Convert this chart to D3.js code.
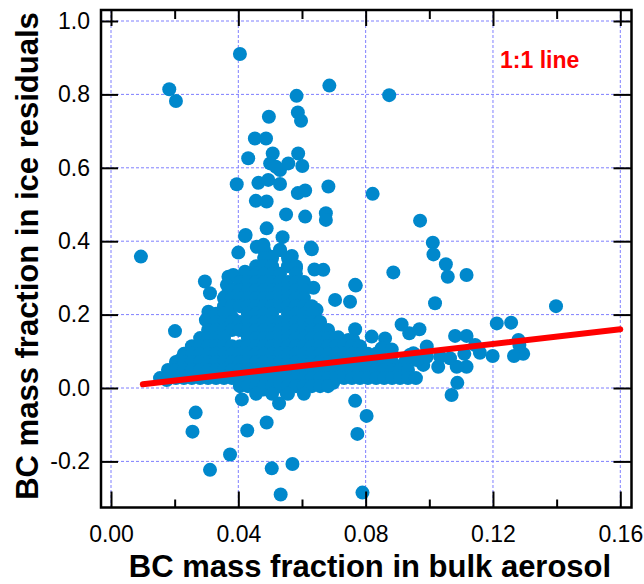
<!DOCTYPE html>
<html><head><meta charset="utf-8">
<script src="https://cdn.jsdelivr.net/npm/d3@7"></script>
<style>body{margin:0;background:#fff} svg{display:block} text{font-family:"Liberation Sans",Arial,sans-serif}</style>
</head><body><svg id="c" width="644" height="584"></svg>
<script>
// ---- data ----
const xTicksMajor = [0, 0.04, 0.08, 0.12, 0.16];
const xTicksMinor = [0.02, 0.06, 0.10, 0.14];
const yTicks = [-0.2, 0, 0.2, 0.4, 0.6, 0.8, 1.0];
const xTitle = "BC mass fraction in bulk aerosol";
const yTitle = "BC mass fraction in ice residuals";
const lineLabel = "1:1 line";
const oneToOne = [[0.01, 0.01], [0.16, 0.16]];

// scattered points [bulk, ice]
const isolatedPoints = [
 [0.0405,0.910],[0.0183,0.814],[0.0204,0.782],[0.0583,0.796],[0.0686,0.824],[0.0874,0.798],
 [0.0496,0.739],[0.0587,0.751],[0.0597,0.728],[0.0452,0.680],[0.0487,0.680],
 [0.0431,0.626],[0.0508,0.639],[0.0588,0.639],[0.0500,0.612],[0.0531,0.594],[0.0557,0.612],[0.0601,0.605],[0.0518,0.603],
 [0.0395,0.555],[0.0463,0.559],[0.0494,0.567],[0.0531,0.556],[0.0587,0.531],[0.0610,0.538],[0.0683,0.549],[0.0822,0.529],
 [0.0455,0.510],[0.0489,0.508],[0.0550,0.473],[0.0610,0.467],[0.0675,0.476],[0.0675,0.458],
 [0.0489,0.435],[0.0423,0.417],[0.0539,0.411],[0.0628,0.383],
 [0.0971,0.456],[0.1011,0.396],[0.1013,0.364],[0.1052,0.337],[0.1058,0.303],[0.1117,0.308],[0.0887,0.315],
 [0.0767,0.281],[0.0751,0.235],[0.1018,0.231],[0.1398,0.223],
 [0.0767,0.160],[0.0913,0.173],[0.0937,0.149],[0.0969,0.160],[0.1212,0.176],[0.1257,0.178],
 [0.0819,0.140],[0.0861,0.135],[0.0850,0.108],[0.0882,0.105],[0.0782,0.111],[0.0992,0.113],
 [0.1081,0.142],[0.1117,0.142],[0.1144,0.117],[0.1159,0.096],[0.1280,0.131],[0.1283,0.117],[0.1295,0.093],[0.1266,0.087],[0.1199,0.087],[0.1110,0.093],
 [0.1117,0.058],[0.1086,0.058],[0.1065,0.081],[0.1028,0.058],[0.1034,0.085],[0.0981,0.063],[0.0950,0.095],[0.0918,0.063],[0.0898,0.054],[0.0850,0.054],[0.0814,0.044],[0.0761,0.049],[0.0756,0.031],
 [0.1088,0.014],[0.1070,-0.019],[0.0767,-0.035],[0.0803,-0.076],[0.0774,-0.125],[0.0790,-0.285],
 [0.0770,0.113],[0.0761,0.131],[0.0992,0.085],[0.0960,0.076],[0.0939,0.090],[0.0924,0.072],
 [0.0094,0.358],[0.0201,0.155],[0.0266,-0.067],[0.0256,-0.119],[0.0374,-0.181],[0.0311,-0.223],
 [0.0411,-0.031],[0.0428,-0.116],[0.0489,-0.094],[0.0505,-0.219],[0.0570,-0.207],[0.0533,-0.290],
 [0.0479,-0.004],[0.0528,-0.042],[0.0521,0.004],[0.0552,-0.014],[0.0698,0.014],[0.0751,0.033],
 [0.0631,0.378],[0.0400,0.369],[0.0421,0.414],[0.0458,0.385],[0.0479,0.390],
 [0.0531,0.376],[0.0568,0.360],[0.0500,0.358],[0.0581,0.326],[0.0639,0.323],[0.0667,0.322],
 [0.0769,0.279],[0.0636,0.273],[0.0573,0.276],[0.0704,0.240],[0.0594,0.246],[0.0646,0.213],[0.0646,0.185],
 [0.0714,0.138],[0.0746,0.131],
 [0.0295,0.290],[0.0311,0.258],[0.0358,0.249],[0.0369,0.303],[0.0384,0.308],[0.0364,0.281],[0.0421,0.317],[0.0442,0.299],[0.0395,0.271],
 [0.0306,0.208],[0.0298,0.185],[0.0316,0.142],[0.0337,0.176],[0.0379,0.194],[0.0416,0.240],[0.0426,0.213],
 [0.0175,0.022],[0.0196,0.049],[0.0217,0.076],[0.0248,0.085],[0.0269,0.094],[0.0290,0.099]
];

// saturated core, read row by row: [ice, [bulk values]]
const coreRows = [
 [0.376,[0.0481,0.0531]],
 [0.354,[0.0481,0.0506,0.0556]],
 [0.332,[0.0456,0.0481,0.0506,0.0556,0.0581]],
 [0.311,[0.0430,0.0456,0.0481,0.0506,0.0531,0.0581]],
 [0.289,[0.0405,0.0430,0.0456,0.0481,0.0506,0.0531,0.0556,0.0581,0.0606]],
 [0.267,[0.0380,0.0405,0.0430,0.0456,0.0481,0.0506,0.0531,0.0556,0.0581,0.0606]],
 [0.245,[0.0355,0.0380,0.0405,0.0430,0.0456,0.0481,0.0506,0.0531,0.0556,0.0581,0.0606]],
 [0.223,[0.0355,0.0380,0.0405,0.0430,0.0456,0.0481,0.0506,0.0531,0.0556,0.0581,0.0606,0.0631]],
 [0.202,[0.0330,0.0355,0.0430,0.0456,0.0481,0.0506,0.0556,0.0581,0.0606,0.0631]],
 [0.180,[0.0330,0.0355,0.0380,0.0405,0.0430,0.0456,0.0481,0.0506,0.0531,0.0556,0.0581,0.0606,0.0631,0.0657]],
 [0.158,[0.0305,0.0330,0.0355,0.0380,0.0405,0.0430,0.0456,0.0481,0.0506,0.0531,0.0556,0.0581,0.0606,0.0631,0.0657,0.0682]],
 [0.136,[0.0280,0.0305,0.0330,0.0355,0.0430,0.0456,0.0481,0.0506,0.0531,0.0556,0.0581,0.0606,0.0631,0.0657,0.0682,0.0707]],
 [0.114,[0.0254,0.0280,0.0305,0.0330,0.0355,0.0380,0.0405,0.0430,0.0456,0.0481,0.0506,0.0531,0.0556,0.0581,0.0606,0.0631,0.0657,0.0682,0.0707,0.0732,0.0757,0.0782]],
 [0.093,[0.0229,0.0254,0.0280,0.0305,0.0330,0.0355,0.0380,0.0405,0.0430,0.0456,0.0481,0.0506,0.0531,0.0556,0.0581,0.0606,0.0631,0.0657,0.0682,0.0707,0.0732,0.0757,0.0782,0.0807,0.0833]],
 [0.071,[0.0204,0.0229,0.0254,0.0280,0.0305,0.0330,0.0355,0.0380,0.0405,0.0430,0.0456,0.0481,0.0506,0.0531,0.0556,0.0581,0.0606,0.0631,0.0657,0.0682,0.0707,0.0732,0.0757,0.0782,0.0807,0.0833,0.0858,0.0883]],
 [0.049,[0.0179,0.0204,0.0229,0.0254,0.0280,0.0305,0.0330,0.0355,0.0380,0.0405,0.0430,0.0456,0.0481,0.0506,0.0531,0.0556,0.0581,0.0606,0.0631,0.0657,0.0682,0.0707,0.0732,0.0757,0.0782,0.0807,0.0833,0.0858,0.0883,0.0908,0.0933]],
 [0.027,[0.0154,0.0179,0.0204,0.0229,0.0254,0.0280,0.0305,0.0330,0.0355,0.0380,0.0405,0.0430,0.0456,0.0481,0.0506,0.0531,0.0556,0.0581,0.0606,0.0631,0.0657,0.0682,0.0707,0.0732,0.0757,0.0782,0.0807,0.0833,0.0858,0.0883,0.0908,0.0933,0.0958]],
 [0.005,[0.0405,0.0430,0.0456,0.0481,0.0506,0.0531,0.0556,0.0581,0.0606,0.0631,0.0657,0.0682]],
 [-0.016,[0.0456,0.0506,0.0556,0.0606]]
];

// ---- drawing ----
const svg = d3.select("#c");
const L = 101, R = 631.5, T = 10, B = 507.5;
const x = d3.scaleLinear().domain([0, 0.16]).range([111, 620.3]);
const y = d3.scaleLinear().domain([0, 1]).range([388, 21]);

const points = isolatedPoints.concat(coreRows.flatMap(([ice, bulks]) => bulks.map(b => [b, ice])));

// grid
const grid = svg.append("g").attr("stroke", "#7f7fff").attr("stroke-width", 1).attr("stroke-dasharray", "3,2");
grid.selectAll(".gv").data(xTicksMajor).enter().append("line")
  .attr("x1", d => x(d)).attr("x2", d => x(d)).attr("y1", T).attr("y2", B);
grid.selectAll(".gh").data(yTicks).enter().append("line")
  .attr("y1", d => y(d)).attr("y2", d => y(d)).attr("x1", L).attr("x2", R);

// points
svg.append("g").selectAll("circle").data(points).enter().append("circle")
  .attr("cx", d => x(d[0])).attr("cy", d => y(d[1])).attr("r", 7).attr("fill", "#0088cc");

// 1:1 line
svg.append("path").datum(oneToOne)
  .attr("d", d3.line().x(d => x(d[0])).y(d => y(d[1])))
  .attr("stroke", "#ff0000").attr("stroke-width", 6).attr("fill", "none").attr("stroke-linecap", "round");

function styleAxis(g) {
  g.select(".domain").remove();
  g.selectAll(".tick line").attr("stroke", "#000").attr("stroke-width", 2);
  g.selectAll("text").attr("font-size", 23).attr("fill", "#000")
    .attr("font-family", '"Liberation Sans", Arial, sans-serif');
}
// bottom
svg.append("g").attr("transform", `translate(0,${B})`)
  .call(d3.axisBottom(x).tickValues(xTicksMajor).tickSize(-16).tickPadding(18).tickFormat(d => d.toFixed(2))).call(styleAxis);
svg.append("g").attr("transform", `translate(0,${B})`)
  .call(d3.axisBottom(x).tickValues(xTicksMinor).tickSize(-8).tickFormat("")).call(styleAxis);
// top
svg.append("g").attr("transform", `translate(0,${T})`)
  .call(d3.axisTop(x).tickValues(xTicksMajor).tickSize(-16).tickFormat("")).call(styleAxis);
svg.append("g").attr("transform", `translate(0,${T})`)
  .call(d3.axisTop(x).tickValues(xTicksMinor).tickSize(-9).tickFormat("")).call(styleAxis);
// left
svg.append("g").attr("transform", `translate(${L},0)`)
  .call(d3.axisLeft(y).tickValues(yTicks).tickSize(-17).tickPadding(11).tickFormat(d => d.toFixed(1))).call(styleAxis);
// right
svg.append("g").attr("transform", `translate(${R},0)`)
  .call(d3.axisRight(y).tickValues(yTicks).tickSize(-18).tickFormat("")).call(styleAxis);

// frame
svg.append("rect").attr("x", L).attr("y", T).attr("width", R - L).attr("height", B - T)
  .attr("fill", "none").attr("stroke", "#000").attr("stroke-width", 2.5);

// texts
svg.append("text").attr("x", 370).attr("y", 577).attr("text-anchor", "middle")
  .attr("font-size", 31).attr("font-weight", "bold").attr("fill", "#000").text(xTitle);
svg.append("text").attr("transform", "translate(38,256) rotate(-90)").attr("text-anchor", "middle")
  .attr("font-size", 31).attr("font-weight", "bold").attr("fill", "#000").text(yTitle);
svg.append("text").attr("x", 500).attr("y", 68).attr("font-size", 23).attr("font-weight", "bold")
  .attr("fill", "#ff0000").text(lineLabel);
</script></body></html>
